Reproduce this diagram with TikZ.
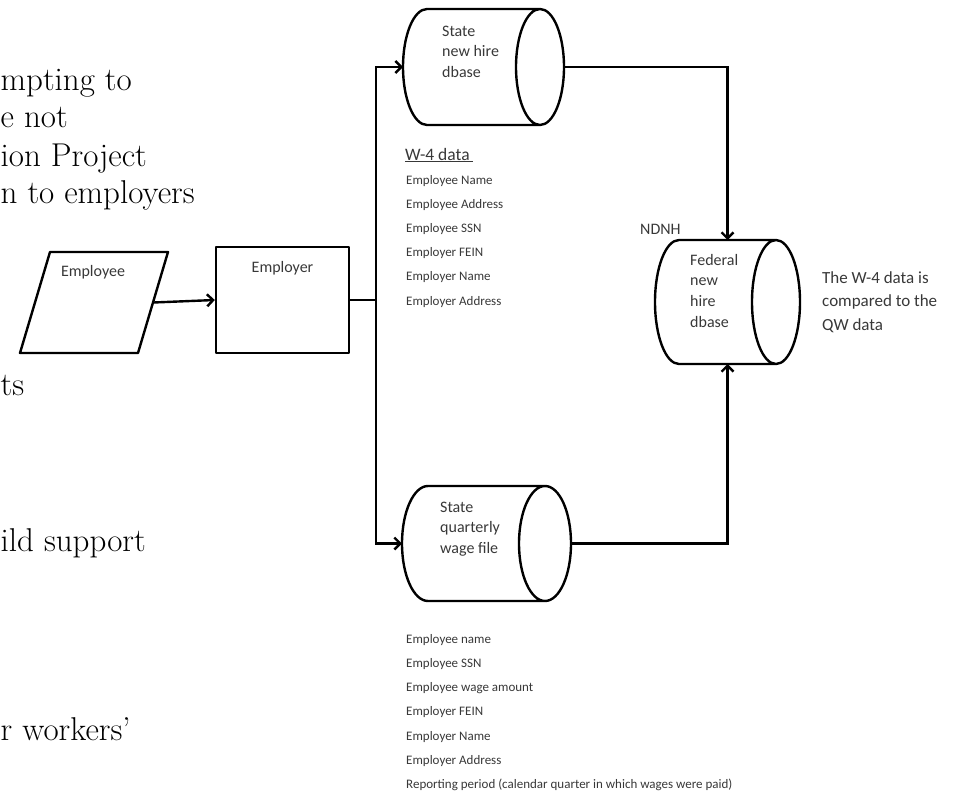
\documentclass[tikz,border=0pt]{standalone}
\usepackage{fontspec}
\newfontfamily\diagfont{Carlito}
\usetikzlibrary{arrows.meta,calc}

% Outline of a horizontal database cylinder filling node #1;
% #2 is the x radius (a length) of the end ellipses.
\newcommand\dbcylinder[2]{%
  \draw[shapeline] let \p1=(#1.north west), \p2=(#1.south east),
      \n1={#2}, \n2={(\y1-\y2)/2}, \n3={0.5523*#2}, \n4={0.5523*(\y1-\y2)/2} in
    ({\x1+\n1},\y1) -- ({\x2-\n1},\y1)
    ({\x1+\n1},\y1) .. controls ({\x1+\n1-\n3},\y1) and (\x1,{\y2+\n2+\n4}) .. (\x1,{\y2+\n2})
                    .. controls (\x1,{\y2+\n2-\n4}) and ({\x1+\n1-\n3},\y2) .. ({\x1+\n1},\y2)
    -- ({\x2-\n1},\y2)
    ({\x2-\n1},{\y2+\n2}) ellipse [x radius=\n1, y radius=\n2];%
}

\begin{document}
\begin{tikzpicture}[x=1pt, y=-1pt,
  shapeline/.style={line width=2.4pt, line join=round, black},
  conn/.style={line width=2.4pt, black},
  flow/.style={conn, -{Straight Barb[length=6pt,width=12pt]}},
  area/.style={inner sep=0pt, outer sep=0pt, draw=none},
  dtext/.style={inner sep=0pt, text=black!78, font=\diagfont\fontsize{16}{19}\selectfont},
  smalltext/.style={inner sep=0pt, text=black!78, font=\diagfont\fontsize{13}{15}\selectfont},
  serif/.style={inner sep=0pt, text=black, anchor=base west,
    font=\fontsize{33}{40}\selectfont}
]
\useasboundingbox (0,0) rectangle (956,792);

% text running in from the left edge
\node[serif] (s1) at (0.5,91)  {mpting to};
\node[serif] (s2) at (0.5,128) {e not};
\node[serif] (s3) at (0.5,166) {ion Project};
\node[serif] (s4) at (0.5,203) {n to employers};
\node[serif] (s5) at (0.5,395) {ts};
\node[serif] (s6) at (0.5,551) {ild support};
\node[serif] (s7) at (0.5,740) {r workers'};

% employee (parallelogram) and employer (box)
\node[area, minimum width=148pt, minimum height=101pt] (employee) at (94,302.5) {};
\draw[shapeline] ([xshift=30pt]employee.north west) -- (employee.north east)
  -- ([xshift=-30pt]employee.south east) -- (employee.south west) -- cycle;
\node[dtext, anchor=base] (employeetxt) at (93,276) {Employee};

\node[shapeline, draw, inner sep=0pt, minimum width=133pt, minimum height=106pt] (employer) at (282.5,300) {};
\node[dtext, anchor=base] (employertxt) at (282.5,272) {Employer};

% databases
\node[area, minimum width=161pt, minimum height=116pt] (statenew) at (483.5,67) {};
\dbcylinder{statenew}{24pt}
\foreach \t [count=\i] in {State, new hire, dbase}
  \node[dtext, anchor=base west] (statenewtxt\i) at (442,{36.5+20.5*(\i-1)}) {\t};

\node[area, minimum width=169pt, minimum height=115pt] (stateqw) at (486.5,543.5) {};
\dbcylinder{stateqw}{26pt}
\foreach \t [count=\i] in {State, quarterly, wage file}
  \node[dtext, anchor=base west] (stateqwtxt\i) at (440,{512+20.5*(\i-1)}) {\t};

\node[area, minimum width=145pt, minimum height=124pt] (federal) at (727.5,302) {};
\dbcylinder{federal}{24pt}
\foreach \t [count=\i] in {Federal, new, hire, dbase}
  \node[dtext, anchor=base west] (federaltxt\i) at (690,{265+20.7*(\i-1)}) {\t};

\node[dtext, anchor=base west] (ndnh) at (640,234) {NDNH};

\foreach \t [count=\i] in {The W-4 data is, compared to the, QW data}
  \node[dtext, font=\diagfont\fontsize{17}{20}\selectfont, anchor=base west] (notetxt\i) at (822,{283+23.5*(\i-1)}) {\t};

% W-4 data fields
\node[dtext, font=\diagfont\fontsize{17.5}{20}\selectfont, anchor=base west] (w4head) at (405,160) {\underline{W-4 data\,}};
\foreach \t [count=\i] in {Employee Name, Employee Address, Employee SSN, Employer FEIN, Employer Name, Employer Address}
  \node[smalltext, anchor=base west] (w4field\i) at (406,{184+24.2*(\i-1)}) {\t};

% quarterly wage fields
\foreach \t [count=\i] in {Employee name, Employee SSN, Employee wage amount, Employer FEIN, Employer Name, Employer Address, Reporting period (calendar quarter in which wages were paid)}
  \node[smalltext, anchor=base west] (qwfield\i) at (406,{643+24.3*(\i-1)}) {\t};

% connectors
\draw[flow] ([xshift=-14.5pt]employee.east) -- (employer.west);
\coordinate (split) at (376,300);
\draw[conn] (employer.east) -- (split);
\draw[flow] (split) |- (statenew.west);
\draw[flow] (split) |- (stateqw.west);
\draw[flow] (statenew.east) -| (federal.north);
\draw[flow] (stateqw.east) -| (federal.south);
\end{tikzpicture}
\end{document}
